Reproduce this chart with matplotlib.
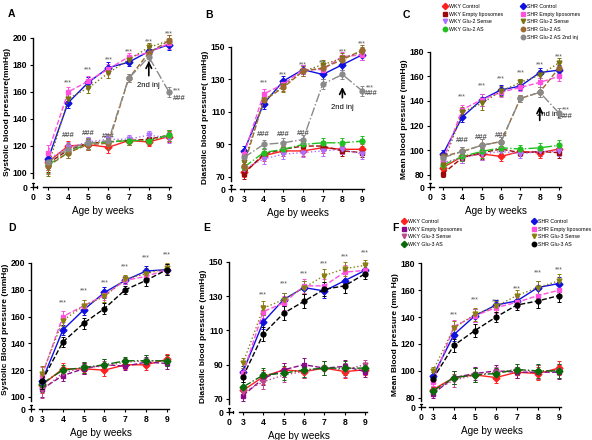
import matplotlib.pyplot as plt
from matplotlib.lines import Line2D

plt.rcParams['font.family'] = ['Liberation Sans', 'DejaVu Sans']

W, H = 592, 440

weeks = [3, 4, 5, 6, 7, 8, 9]

names_glu2 = ['WKY Control', 'WKY Empty liposomes', 'WKY Glu-2 Sense', 'WKY Glu-2 AS',
              'SHR Control', 'SHR Empty liposomes', 'SHR Glu-2 Sense', 'SHR Glu-2 AS',
              'SHR Glu-2 AS 2nd inj']
names_glu3 = ['WKY Control', 'WKY Empty liposomes', 'WKY Glu-3 Sense', 'WKY Glu-3 AS',
              'SHR Control', 'SHR Empty liposomes', 'SHR Glu-3 Sense', 'SHR Glu-3 AS']

# A - systolic, Glu-2
sys_glu2 = [
    [108, 120, 121, 119, 124, 123, 127],
    [107, 117, 122, 123, 124, 125, 128],
    [110, 119, 123, 125, 125, 128, 126],
    [106, 115, 122, 123, 124, 124, 128],
    [110, 152, 167, 178, 182, 190, 195],
    [115, 160, 168, 177, 186, 189, 196],
    [104, 155, 163, 174, 184, 193, 198],
    [105, 115, 121, 122, 170, 189, 198],
    [108, 118, 122, 124, 170, 186, 160],
]
sys_glu2_err = [6, 4, 4, 4, 3, 3, 4]

# B - diastolic, Glu-2
dia_glu2 = [
    [73, 83, 86, 86, 88, 87, 87],
    [72, 84, 87, 89, 89, 86, 85],
    [75, 81, 84, 85, 86, 87, 84],
    [76, 85, 87, 90, 91, 91, 92],
    [86, 115, 129, 136, 133, 139, 145],
    [84, 121, 127, 136, 136, 144, 145],
    [79, 117, 126, 135, 139, 143, 147],
    [77, 117, 125, 135, 137, 142, 148],
    [82, 90, 91, 93, 127, 133, 123],
]
dia_glu2_err = [3, 3, 3, 3, 3, 3, 3]

# C - mean, Glu-2
mean_glu2 = [
    [86, 95, 97, 95, 99, 98, 101],
    [81, 94, 98, 101, 98, 99, 98],
    [90, 94, 97, 99, 97, 99, 99],
    [88, 95, 99, 102, 101, 102, 104],
    [97, 127, 141, 149, 152, 163, 165],
    [92, 133, 141, 147, 151, 155, 160],
    [88, 131, 138, 148, 155, 161, 171],
    [95, 99, 104, 107, 142, 147, 167],
    [94, 99, 104, 107, 142, 147, 130],
]
mean_glu2_err = [3, 4, 5, 4, 3, 4, 4]

# D - systolic, Glu-3
sys_glu3 = [
    [109, 121, 121, 120, 124, 124, 128],
    [106, 116, 121, 124, 123, 126, 125],
    [105, 118, 122, 123, 126, 127, 127],
    [110, 120, 122, 124, 127, 127, 127],
    [112, 150, 165, 178, 187, 194, 195],
    [116, 160, 168, 176, 187, 190, 195],
    [117, 157, 168, 175, 188, 192, 196],
    [112, 141, 155, 166, 180, 187, 195],
]
sys_glu3_err = [6, 4, 4, 4, 3, 4, 4]

# E - diastolic, Glu-3
dia_glu3 = [
    [75, 83, 87, 86, 88, 86, 87],
    [72, 82, 87, 90, 88, 89, 86],
    [74, 80, 84, 86, 88, 87, 90],
    [77, 84, 85, 87, 88, 88, 88],
    [86, 115, 128, 135, 133, 139, 145],
    [85, 121, 126, 136, 136, 144, 145],
    [91, 123, 128, 135, 142, 146, 148],
    [83, 108, 120, 127, 134, 136, 143],
]
dia_glu3_err = [3, 4, 4, 4, 4, 4, 3]

# F - mean, Glu-3
mean_glu3 = [
    [86, 95, 97, 95, 99, 98, 102],
    [83, 95, 98, 100, 99, 99, 99],
    [85, 93, 97, 99, 101, 99, 100],
    [85, 95, 97, 98, 101, 100, 100],
    [96, 127, 141, 149, 152, 162, 165],
    [92, 133, 141, 147, 151, 156, 160],
    [100, 132, 142, 148, 156, 162, 167],
    [94, 119, 130, 140, 149, 152, 156],
]
mean_glu3_err = [3, 5, 5, 4, 4, 5, 5]

# colour, marker, linestyle
styles_glu2 = [
    ('#ff2020', 'D', '-'),
    ('#9a0a0a', 's', '--'),
    ('#b070ff', 'v', ':'),
    ('#20c020', 'o', '-.'),
    ('#1010e0', 'D', '-'),
    ('#ff50e0', 's', '--'),
    ('#7a7410', 'v', ':'),
    ('#9a6a30', 'o', '--'),
    ('#8a8a8a', 'o', '-.'),
]
styles_glu3 = [
    ('#ff2020', 'D', '-'),
    ('#8a0a8a', 's', '--'),
    ('#c04890', 'v', ':'),
    ('#0a6a0a', 'D', '-.'),
    ('#1010e0', 'D', '-'),
    ('#ff50e0', 's', '--'),
    ('#8a8010', 'v', ':'),
    ('#000000', 'o', '--'),
]

fig = plt.figure(figsize=(W / 100, H / 100), dpi=100)


def add_panel(px_left, px_top, px_w, px_h, xlim, ylim, lo, hi, step):
    ax = fig.add_axes([px_left / W, 1 - (px_top + px_h) / H, px_w / W, px_h / H])
    ax.set_xlim(*xlim)
    ax.set_ylim(*ylim)
    x0, y0 = xlim[0], ylim[0]
    yt = list(range(lo, hi + 1, step))
    ax.set_yticks([y0] + yt)
    ax.set_yticklabels(['0'] + [str(v) for v in yt])
    ax.set_xticks([x0] + weeks)
    ax.set_xticklabels(['0'] + [str(w) for w in weeks])
    for s in ['top', 'right']:
        ax.spines[s].set_visible(False)
    ax.spines['left'].set_bounds(lo - (lo - y0) * 0.35, hi)
    ax.spines['bottom'].set_bounds(3 - (3 - x0) * 0.3, 9.1)
    # broken axis stubs
    ax.plot([x0, x0], [y0, y0 + (lo - y0) * 0.3], color='k', lw=1, clip_on=False)
    ax.plot([x0, x0 + (3 - x0) * 0.3], [y0, y0], color='k', lw=1, clip_on=False)
    ax.plot([x0 - 0.05, x0 + 0.05], [y0 + (lo - y0) * 0.3] * 2, color='k', lw=0.8, clip_on=False)
    ax.plot([x0 + (3 - x0) * 0.3] * 2, [y0 - (lo - y0) * 0.04, y0 + (lo - y0) * 0.04],
            color='k', lw=0.8, clip_on=False)
    for s in ['left', 'bottom']:
        ax.spines[s].set_linewidth(1)
    ax.tick_params(labelsize=6.2, length=2.5, width=0.8, pad=1.5)
    for t in ax.get_yticklabels() + ax.get_xticklabels():
        t.set_fontweight('bold')
    ax.set_xlabel('Age by weeks', fontsize=7.2, labelpad=3)
    return ax


def draw_series(ax, data, styles, err):
    for i, vals in enumerate(data):
        c, m, ls = styles[i]
        ax.errorbar(weeks, vals, yerr=err, color=c, marker=m, ls=ls, lw=1,
                    ms=3.5, elinewidth=0.7, capsize=1.5, capthick=0.7,
                    clip_on=False, zorder=3 + (i >= 4))


def stars(ax, ys, fs=5):
    for w, y in zip(weeks[1:], ys):
        ax.text(w, y, '***', ha='center', va='center', fontsize=fs, color='#555555')


def hashes(ax, xs, ys):
    for x, y in zip(xs, ys):
        ax.text(x, y, '###', ha='center', va='center', fontsize=5.5,
                color='#555555', fontweight='bold')


def legends(names, styles, x1, x2, ytop):
    wky = [Line2D([], [], color=c, marker=m, ls='none', ms=3.2) for c, m, _ in styles[:4]]
    shr = [Line2D([], [], color=c, marker=m, ls='none', ms=3.2) for c, m, _ in styles[4:]]
    for hs, labels, x in [(wky, names[:4], x1), (shr, names[4:], x2)]:
        fig.legend(hs, labels, loc='upper left', bbox_to_anchor=(x / W, 1 - ytop / H),
                   frameon=False, fontsize=3.8, handletextpad=0.3, labelspacing=0.5,
                   handlelength=1.0, borderaxespad=0, borderpad=0)


def ylabel(ax, text):
    ax.set_ylabel(text, fontsize=6, fontweight='bold', labelpad=1.5)


# ---------- A
ax = add_panel(33, 37, 139, 150, (2.26, 9.15), (89.6, 200.7), 100, 200, 20)
draw_series(ax, sys_glu2, styles_glu2, sys_glu2_err)
ylabel(ax, 'Systolic blood pressure(mmHg)')
stars(ax, [167, 176, 184, 190, 197, 203])
hashes(ax, [4, 5, 6], [128, 129, 127])
ax.text(9.4, 161, '***', ha='center', va='center', fontsize=5, color='#555555')
hashes(ax, [9.5], [155])
ax.annotate('', xy=(8, 185), xytext=(8, 170),
            arrowprops=dict(arrowstyle='->', lw=1.2, color='k'))
ax.text(8, 165, '2nd inj', ha='center', va='center', fontsize=5.5)

# ---------- B
ax = add_panel(231, 46, 134, 143, (2.34, 9.15), (62.6, 150.5), 70, 150, 20)
draw_series(ax, dia_glu2, styles_glu2, dia_glu2_err)
ylabel(ax, 'Diastolic blood pressure( mmHg)')
stars(ax, [128, 133, 139, 140, 147, 152])
hashes(ax, [4, 5, 6], [96, 96, 97])
ax.text(9.4, 125, '***', ha='center', va='center', fontsize=5, color='#555555')
hashes(ax, [9.45], [121])
ax.annotate('', xy=(8, 127), xytext=(8, 117),
            arrowprops=dict(arrowstyle='->', lw=1.2, color='k'))
ax.text(8, 113, '2nd inj', ha='center', va='center', fontsize=5.5)

# ---------- C
ax = add_panel(430, 51, 132, 136, (2.33, 9.15), (70.2, 180.5), 80, 180, 20)
draw_series(ax, mean_glu2, styles_glu2, mean_glu2_err)
ylabel(ax, 'Mean blood pressure (mmHg)')
stars(ax, [143, 152, 158, 163, 169, 176])
hashes(ax, [4, 5, 6], [108, 110, 112])
ax.text(9.35, 133, '***', ha='center', va='center', fontsize=5, color='#555555')
hashes(ax, [9.35], [127])
ax.annotate('', xy=(8, 138), xytext=(8, 122),
            arrowprops=dict(arrowstyle='->', lw=1.2, color='k'))
ax.text(8.45, 129, '2nd inj', ha='center', va='center', fontsize=5.5)
legends(names_glu2, styles_glu2, 442, 520, 4)

# ---------- D
ax = add_panel(31, 250, 139, 159, (2.47, 9.15), (91, 209.7), 100, 200, 20)
draw_series(ax, sys_glu3, styles_glu3, sys_glu3_err)
ylabel(ax, 'Systolic Blood pressure (mmHg)')
stars(ax, [170, 179, 185, 197, 204, 206])

# ---------- E
ax = add_panel(229, 261, 139, 151, (2.31, 9.15), (62.4, 150.5), 70, 150, 20)
draw_series(ax, dia_glu3, styles_glu3, dia_glu3_err)
ylabel(ax, 'Diastolic blood pressure (mmHg)')
stars(ax, [131, 137, 143, 149, 153, 155])

# ---------- F
ax = add_panel(421, 262, 141, 145, (2.43, 9.15), (73.1, 181), 80, 180, 20)
draw_series(ax, mean_glu3, styles_glu3, mean_glu3_err)
ylabel(ax, 'Mean Blood pressure (mm Hg)')
stars(ax, [142, 153, 151, 161, 173, 175])
legends(names_glu3, styles_glu3, 401, 531, 219)

for label, x, y in [('A', 8, 14), ('B', 205, 15), ('C', 403, 15),
                    ('D', 8, 228), ('E', 203, 228), ('F', 392, 228)]:
    fig.text(x / W, 1 - y / H, label, fontsize=7.5, fontweight='bold', va='center')

fig.savefig('out.png', dpi=100)
